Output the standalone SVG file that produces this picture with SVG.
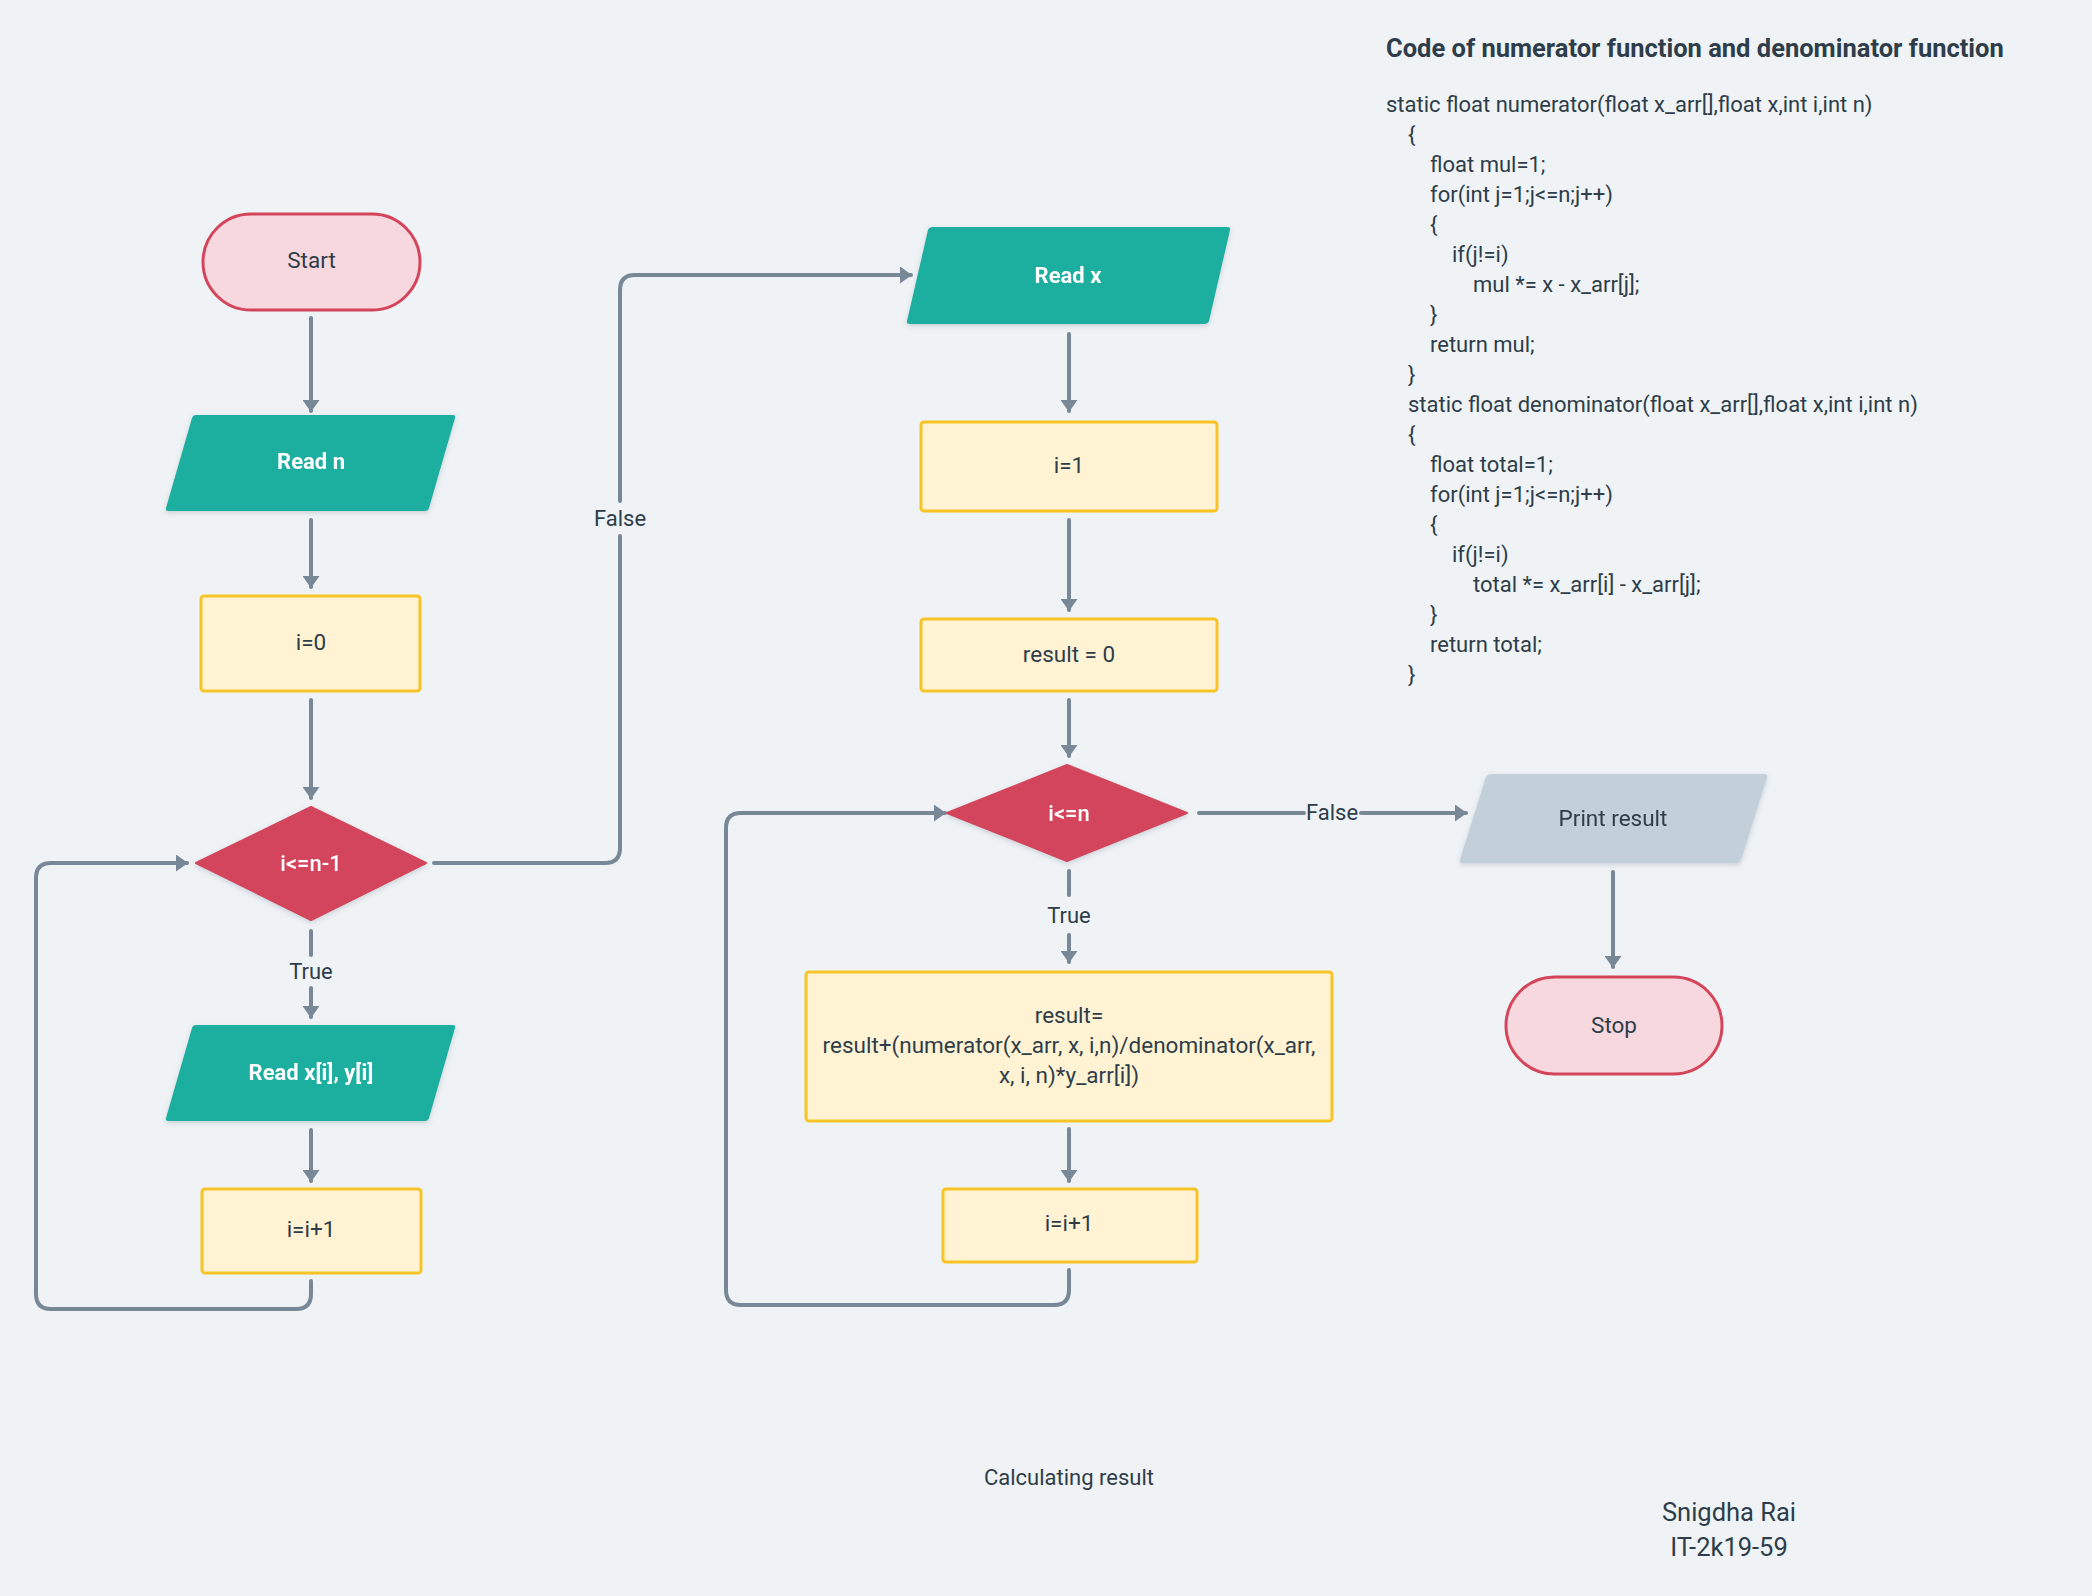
<svg xmlns="http://www.w3.org/2000/svg" width="2092" height="1596" viewBox="0 0 2092 1596">
  <defs>
    <style>
      .bg { fill: #EFF3F6; }
      .txt { font-family: Roboto, "Liberation Sans", sans-serif; fill: #2E3D49; }
      .node-text { font-size: 22.5px; text-anchor: middle; dominant-baseline: central; }
      .light { fill: #FFFFFF; font-weight: bold; font-size: 22px; }
      .dia-text { fill: #FFFFFF; font-weight: 500; font-size: 22px; }
      .term { fill: #F7D8DE; stroke: #D3455B; stroke-width: 3; }
      .proc { fill: #FFF3D3; stroke: #F7C325; stroke-width: 3; }
      .io { fill: #1AAE9F; }
      .out { fill: #C3CFD9; }
      .dec { fill: #D3455B; }
      .conn { fill: none; stroke: #788896; stroke-width: 4; stroke-linecap: round; stroke-linejoin: round; }
      .label { font-size: 22px; text-anchor: middle; dominant-baseline: central; }
      .code { font-size: 22px; }
      .title { font-size: 25.5px; font-weight: bold; }
    </style>
    <marker id="arrow" viewBox="0 0 12 17" refX="11" refY="8.5" markerWidth="3" markerHeight="4.25" orient="auto">
      <path d="M0,0 L12,8.5 L0,17 z" fill="#788896"/>
    </marker>
    <filter id="shadow" x="-10%" y="-10%" width="120%" height="130%">
      <feDropShadow dx="0" dy="2" stdDeviation="2.5" flood-color="#5A6A78" flood-opacity="0.25"/>
    </filter>
  </defs>

  <rect class="bg" x="0" y="0" width="2092" height="1596"/>

  <!-- connectors -->
  <g id="connectors">
    <path class="conn" d="M311,318 V411" marker-end="url(#arrow)"/>
    <path class="conn" d="M311,520 V587" marker-end="url(#arrow)"/>
    <path class="conn" d="M311,700 V798" marker-end="url(#arrow)"/>
    <path class="conn" d="M311,931 V955"/>
    <path class="conn" d="M311,988 V1017" marker-end="url(#arrow)"/>
    <path class="conn" d="M311,1130 V1181" marker-end="url(#arrow)"/>
    <path class="conn" d="M311,1281 V1294 Q311,1309 296,1309 H51 Q36,1309 36,1294 V878 Q36,863 51,863 H187" marker-end="url(#arrow)"/>
    <path class="conn" d="M434,863 H605 Q620,863 620,848 V536"/>
    <path class="conn" d="M620,501 V290 Q620,275 635,275 H911" marker-end="url(#arrow)"/>
    <path class="conn" d="M1069,334 V411" marker-end="url(#arrow)"/>
    <path class="conn" d="M1069,520 V610" marker-end="url(#arrow)"/>
    <path class="conn" d="M1069,700 V756" marker-end="url(#arrow)"/>
    <path class="conn" d="M1069,871 V895"/>
    <path class="conn" d="M1069,935 V962" marker-end="url(#arrow)"/>
    <path class="conn" d="M1069,1129 V1181" marker-end="url(#arrow)"/>
    <path class="conn" d="M1069,1270 V1290 Q1069,1305 1054,1305 H741 Q726,1305 726,1290 V828 Q726,813 741,813 H945" marker-end="url(#arrow)"/>
    <path class="conn" d="M1199,813 H1304"/>
    <path class="conn" d="M1361,813 H1466" marker-end="url(#arrow)"/>
    <path class="conn" d="M1613,872 V967" marker-end="url(#arrow)"/>
    <text class="txt label" x="311" y="971">True</text>
    <text class="txt label" x="620" y="518">False</text>
    <text class="txt label" x="1069" y="915">True</text>
    <text class="txt label" x="1332" y="812">False</text>
  </g>

  <!-- left column -->
  <g id="start">
    <rect class="term" x="203" y="214" width="217" height="96" rx="48"/>
    <text class="txt node-text" x="311.5" y="260">Start</text>
  </g>
  <g id="read-n" filter="url(#shadow)">
    <path class="io" d="M196,415 H453 Q456,415 455,418 L429,508 Q428,511 425,511 H168 Q165,511 166,508 L192,418 Q193,415 196,415 Z"/>
    <text class="txt node-text light" x="311" y="461">Read n</text>
  </g>
  <g id="i-zero">
    <rect class="proc" x="201" y="596" width="219" height="95" rx="3"/>
    <text class="txt node-text" x="311" y="642">i=0</text>
  </g>
  <g id="cond-outer" filter="url(#shadow)">
    <path class="dec" d="M311,807 L426,863 L311,920 L196,863 Z" stroke="#D3455B" stroke-width="2" stroke-linejoin="round"/>
    <text class="txt node-text dia-text" x="311" y="863">i&lt;=n-1</text>
  </g>
  <g id="read-xy" filter="url(#shadow)">
    <path class="io" d="M196,1025 H453 Q456,1025 455,1028 L429,1118 Q428,1121 425,1121 H168 Q165,1121 166,1118 L192,1028 Q193,1025 196,1025 Z"/>
    <text class="txt node-text light" x="311" y="1072">Read x[i], y[i]</text>
  </g>
  <g id="inc-outer">
    <rect class="proc" x="202" y="1189" width="219" height="84" rx="3"/>
    <text class="txt node-text" x="311" y="1229">i=i+1</text>
  </g>

  <!-- middle column -->
  <g id="read-x" filter="url(#shadow)">
    <path class="io" d="M933,227 H1227 Q1231,227 1230,230 L1209,321 Q1208,324 1204,324 H910 Q906,324 907,321 L928,230 Q929,227 933,227 Z"/>
    <text class="txt node-text light" x="1068" y="275">Read x</text>
  </g>
  <g id="i-one">
    <rect class="proc" x="921" y="422" width="296" height="89" rx="3"/>
    <text class="txt node-text" x="1069" y="465">i=1</text>
  </g>
  <g id="result-zero">
    <rect class="proc" x="921" y="619" width="296" height="72" rx="3"/>
    <text class="txt node-text" x="1069" y="654">result = 0</text>
  </g>
  <g id="cond-inner" filter="url(#shadow)">
    <path class="dec" d="M1067,765 L1187,813 L1067,861 L947,813 Z" stroke="#D3455B" stroke-width="2" stroke-linejoin="round"/>
    <text class="txt node-text dia-text" x="1069" y="813">i&lt;=n</text>
  </g>
  <g id="accumulate">
    <rect class="proc" x="806" y="972" width="526" height="149" rx="3"/>
    <text class="txt node-text" x="1069" y="1015">result=</text>
    <text class="txt node-text" x="1069" y="1045">result+(numerator(x_arr, x, i,n)/denominator(x_arr,</text>
    <text class="txt node-text" x="1069" y="1075">x, i, n)*y_arr[i])</text>
  </g>
  <g id="inc-inner">
    <rect class="proc" x="943" y="1189" width="254" height="73" rx="3"/>
    <text class="txt node-text" x="1069" y="1223">i=i+1</text>
  </g>

  <!-- right column -->
  <g id="print" filter="url(#shadow)">
    <path class="out" d="M1493,774 H1764 Q1768,774 1767,777 L1741,860 Q1740,863 1736,863 H1463 Q1459,863 1460,860 L1486,777 Q1487,774 1493,774 Z"/>
    <text class="txt node-text" x="1613" y="818">Print result</text>
  </g>
  <g id="stop">
    <rect class="term" x="1506" y="977" width="216" height="97" rx="48.5"/>
    <text class="txt node-text" x="1614" y="1025">Stop</text>
  </g>

  <!-- code notes -->
  <g id="code-note" class="txt">
    <text class="title" x="1386" y="57">Code of numerator function and denominator function</text>
    <g class="code">
      <text x="1386" y="112">static float numerator(float x_arr[],float x,int i,int n)</text>
      <text x="1408" y="142">{</text>
      <text x="1430" y="172">float mul=1;</text>
      <text x="1430" y="202">for(int j=1;j&lt;=n;j++)</text>
      <text x="1430" y="232">{</text>
      <text x="1452" y="262">if(j!=i)</text>
      <text x="1473" y="292">mul *= x - x_arr[j];</text>
      <text x="1430" y="322">}</text>
      <text x="1430" y="352">return mul;</text>
      <text x="1408" y="382">}</text>
      <text x="1408" y="412">static float denominator(float x_arr[],float x,int i,int n)</text>
      <text x="1408" y="442">{</text>
      <text x="1430" y="472">float total=1;</text>
      <text x="1430" y="502">for(int j=1;j&lt;=n;j++)</text>
      <text x="1430" y="532">{</text>
      <text x="1452" y="562">if(j!=i)</text>
      <text x="1473" y="592">total *= x_arr[i] - x_arr[j];</text>
      <text x="1430" y="622">}</text>
      <text x="1430" y="652">return total;</text>
      <text x="1408" y="682">}</text>
    </g>
  </g>

  <!-- captions -->
  <g id="captions" class="txt">
    <text x="1069" y="1485" font-size="22" text-anchor="middle">Calculating result</text>
    <text x="1729" y="1521" font-size="25.5" text-anchor="middle">Snigdha Rai</text>
    <text x="1729" y="1556" font-size="25.5" text-anchor="middle">IT-2k19-59</text>
  </g>
</svg>
